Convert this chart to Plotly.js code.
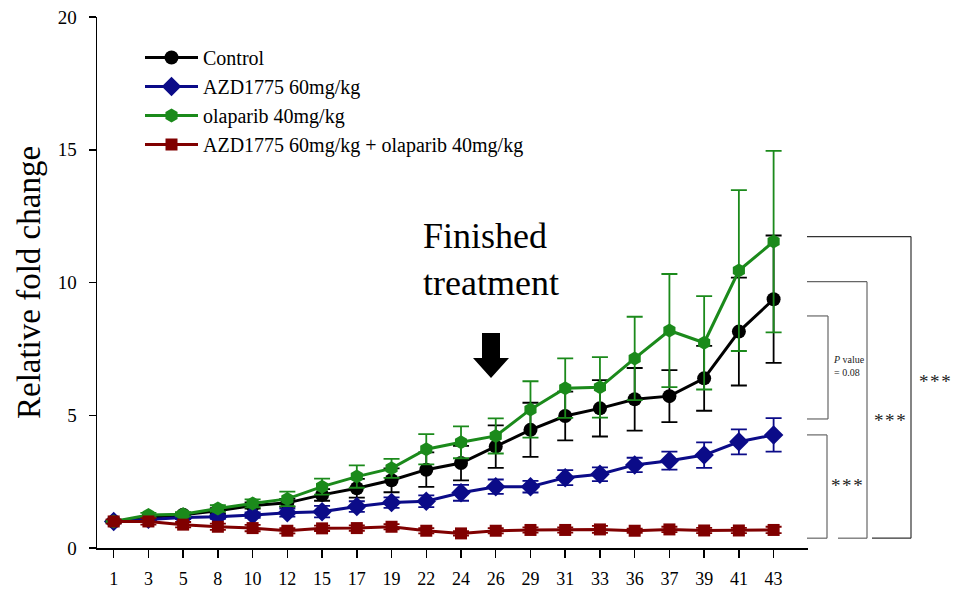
<!DOCTYPE html>
<html>
<head>
<meta charset="utf-8">
<script src="https://cdn.plot.ly/plotly-3.0.1.min.js"></script>
<style>
  html, body { margin: 0; padding: 0; background: #ffffff; }
  #chart { width: 956px; height: 591px; }
</style>
</head>
<body>
<div id="chart"></div>
<script>
// Days after first dose
const days = ['1', '3', '5', '8', '10', '12', '15', '17', '19', '22', '24', '26', '29', '31', '33', '36', '37', '39', '41', '43'];

// Mean relative fold change and error per group
const control    = [1.0, 1.15, 1.25, 1.4, 1.6, 1.7, 2.0, 2.25, 2.55, 2.95, 3.2, 3.82, 4.45, 4.97, 5.26, 5.6, 5.72, 6.39, 8.15, 9.37];
const controlErr = [0.03, 0.06, 0.08, 0.1, 0.12, 0.15, 0.22, 0.35, 0.45, 0.65, 0.65, 0.8, 1.02, 0.92, 1.06, 1.18, 0.98, 1.22, 2.03, 2.4];

const azd    = [1.0, 1.08, 1.15, 1.18, 1.24, 1.33, 1.37, 1.56, 1.71, 1.76, 2.08, 2.31, 2.31, 2.65, 2.78, 3.13, 3.29, 3.5, 4.0, 4.26];
const azdErr = [0.03, 0.05, 0.06, 0.08, 0.1, 0.15, 0.22, 0.2, 0.2, 0.22, 0.3, 0.27, 0.22, 0.28, 0.26, 0.27, 0.34, 0.48, 0.47, 0.63];

const olaparib    = [1.0, 1.24, 1.27, 1.49, 1.68, 1.85, 2.31, 2.69, 3.0, 3.72, 3.98, 4.22, 5.22, 6.02, 6.05, 7.14, 8.19, 7.73, 10.45, 11.54];
const olaparibErr = [0.03, 0.08, 0.08, 0.12, 0.15, 0.27, 0.3, 0.42, 0.36, 0.57, 0.6, 0.66, 1.06, 1.12, 1.14, 1.57, 2.13, 1.76, 3.03, 3.42];

const combo    = [1.0, 1.0, 0.88, 0.8, 0.75, 0.65, 0.74, 0.75, 0.8, 0.65, 0.55, 0.65, 0.68, 0.68, 0.7, 0.65, 0.7, 0.66, 0.66, 0.68];
const comboErr = [0.08, 0.12, 0.1, 0.12, 0.12, 0.1, 0.1, 0.1, 0.1, 0.1, 0.08, 0.1, 0.1, 0.1, 0.13, 0.08, 0.1, 0.1, 0.1, 0.12];

const groupNames  = ['Control', 'AZD1775 60mg/kg', 'olaparib 40mg/kg', 'AZD1775 60mg/kg + olaparib 40mg/kg'];
const groupColors = ['#000000', '#0b0b88', '#1b8a1b', '#800000'];
const groupSymbols = ['circle', 'diamond', 'hexagon', 'square'];
const groupSizes = [14, 15, 14, 12];
const groupMeans = [control, azd, olaparib, combo];
const groupErrs  = [controlErr, azdErr, olaparibErr, comboErr];

// Statistical comparisons at day 43: [top, bottom] of each bracket and its label
const bracketTop    = [11.73, 10.03, 8.74, 4.26];
const bracketBottom = [0.37, 0.37, 4.86, 0.37];
const bracketLabels = ['*\u200A*\u200A*', '*\u200A*\u200A*', '<i>P</i> value<br>= 0.08', '*\u200A*\u200A*'];

const FONT = '"Liberation Serif", "Times New Roman", Times, serif';

const traces = groupNames.map((name, i) => ({
  type: 'scatter',
  mode: 'lines+markers',
  name: name,
  x: days,
  y: groupMeans[i],
  error_y: { type: 'data', array: groupErrs[i], visible: true, color: groupColors[i], thickness: 1.8, width: 8 },
  line: { color: groupColors[i], width: 3 },
  marker: { color: groupColors[i], symbol: groupSymbols[i], size: groupSizes[i], line: { width: 0 } },
  cliponaxis: false
}));

// plot area in pixels: left 97, right 808, top 17, bottom 548
const px = v => (v - 97) / 711;
const py = v => (548 - v) / 531;

// bracket geometry: [start x of top arm, vertical x, start x of bottom arm]
const bracketX = [[807, 911, 872], [807, 867, 838], [807, 828, 807], [807, 827, 807]];
const shapes = [];
bracketTop.forEach((top, i) => {
  const [xs, xv, xb] = bracketX[i];
  const bot = bracketBottom[i];
  const col = i === 0 ? '#333333' : '#666666';
  shapes.push({ type: 'line', xref: 'paper', yref: 'y', x0: px(xs), x1: px(xv), y0: top, y1: top, line: { color: col, width: 1.2 } });
  shapes.push({ type: 'line', xref: 'paper', yref: 'y', x0: px(xv), x1: px(xv), y0: top, y1: bot, line: { color: col, width: 1.2 } });
  shapes.push({ type: 'line', xref: 'paper', yref: 'y', x0: px(xb), x1: px(xv), y0: bot, y1: bot, line: { color: col, width: 1.2 } });
});

// block arrow marking end of treatment
shapes.push({
  type: 'path', xref: 'paper', yref: 'paper',
  path: `M${px(482)},${py(333)} L${px(500)},${py(333)} L${px(500)},${py(358)} L${px(509)},${py(358)} ` +
        `L${px(491)},${py(378)} L${px(473)},${py(358)} L${px(482)},${py(358)} Z`,
  fillcolor: '#000000', line: { width: 0 }
});

const labelPos = [[935, 6.26, 'center'], [890, 4.82, 'center'], [831, 6.85, 'left'], [847, 2.37, 'center']];
const annotations = bracketLabels.map((t, i) => ({
  xref: 'paper', yref: 'y', x: px(labelPos[i][0]), y: labelPos[i][1],
  xanchor: labelPos[i][2], yanchor: 'middle', text: t, showarrow: false, align: 'left',
  font: { family: FONT, size: i === 2 ? 10 : 19, color: '#222222' }
}));
annotations.push({
  xref: 'paper', yref: 'paper', x: px(421), y: py(259), xanchor: 'left', yanchor: 'middle',
  text: 'Finished<br>treatment', showarrow: false, align: 'left',
  font: { family: FONT, size: 36, color: '#000000' }
});

const layout = {
  width: 956, height: 591,
  margin: { l: 97, r: 148, t: 17, b: 43, pad: 0 },
  paper_bgcolor: '#ffffff', plot_bgcolor: '#ffffff',
  font: { family: FONT, color: '#000000' },
  showlegend: true,
  legend: {
    x: px(140), y: py(38), xanchor: 'left', yanchor: 'top',
    bgcolor: 'rgba(0,0,0,0)', font: { family: FONT, size: 20, color: '#000000' },
    itemwidth: 53, tracegroupgap: 0
  },
  xaxis: {
    type: 'category', range: [-0.48, 19.99],
    showline: true, linecolor: '#000000', linewidth: 1.5,
    ticks: 'outside', ticklen: 8, tickwidth: 1.5, tickcolor: '#000000',
    tickfont: { family: FONT, size: 18, color: '#000000' },
    ticklabelstandoff: 6,
    showgrid: false, zeroline: false, fixedrange: true
  },
  yaxis: {
    range: [0, 20], tickvals: [0, 5, 10, 15, 20],
    showline: true, linecolor: '#000000', linewidth: 1.5,
    ticks: 'outside', ticklen: 7, tickwidth: 1.5, tickcolor: '#000000',
    tickfont: { family: FONT, size: 19, color: '#000000' },
    ticklabelstandoff: 8,
    showgrid: false, zeroline: false, fixedrange: true,
    title: { text: 'Relative fold change', font: { family: FONT, size: 33, color: '#000000' }, standoff: 7 }
  },
  shapes: shapes,
  annotations: annotations
};

Plotly.newPlot('chart', traces, layout, { displayModeBar: false, staticPlot: true });
</script>
</body>
</html>
